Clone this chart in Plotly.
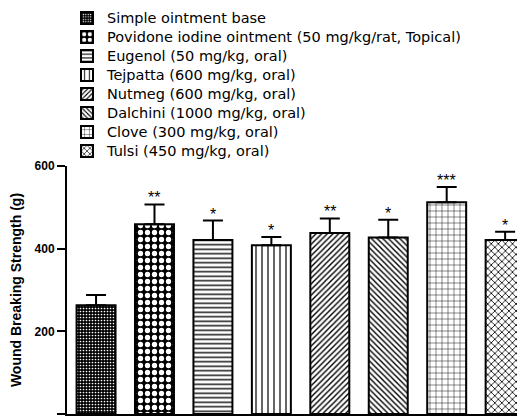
import plotly.graph_objects as go

groups = [
    "Simple ointment base",
    "Povidone iodine ointment (50 mg/kg/rat, Topical)",
    "Eugenol (50 mg/kg, oral)",
    "Tejpatta (600 mg/kg, oral)",
    "Nutmeg (600 mg/kg, oral)",
    "Dalchini (1000 mg/kg, oral)",
    "Clove (300 mg/kg, oral)",
    "Tulsi (450 mg/kg, oral)",
]
means = [263, 459, 421, 408, 438, 427, 512, 421]
sems = [25, 48, 47, 20, 35, 43, 37, 20]
stars = ["", "**", "*", "*", "**", "*", "***", "*"]
y_ticks = [0, 200, 400, 600]

patterns = [
    dict(shape=".", fillmode="replace", bgcolor="black", fgcolor="white", size=3, solidity=0.25),
    dict(shape=".", fillmode="replace", bgcolor="black", fgcolor="white", size=7, solidity=0.45),
    dict(shape="-", fillmode="replace", bgcolor="white", fgcolor="#222", size=4.5, solidity=0.35),
    dict(shape="|", fillmode="replace", bgcolor="white", fgcolor="#333", size=6, solidity=0.25),
    dict(shape="/", fillmode="replace", bgcolor="white", fgcolor="black", size=4, solidity=0.35),
    dict(shape="\\", fillmode="replace", bgcolor="white", fgcolor="black", size=4, solidity=0.35),
    dict(shape="+", fillmode="replace", bgcolor="white", fgcolor="black", size=6, solidity=0.15),
    dict(shape="x", fillmode="replace", bgcolor="white", fgcolor="black", size=5, solidity=0.3),
]

FONT = "Liberation Sans, Arial, sans-serif"
LEGEND_FONT = "DejaVu Sans, Liberation Sans, sans-serif"

fig = go.Figure()
for g, m, s, p in zip(groups, means, sems, patterns):
    fig.add_trace(go.Bar(
        x=[g], y=[m], width=0.667,
        name='<span style="font-size:14.5px">' + g + '</span>',
        marker=dict(color="white", line=dict(color="black", width=2), pattern=p),
        error_y=dict(type="data", array=[s], arrayminus=[0], symmetric=False,
                     color="black", thickness=2, width=10),
    ))

for g, m, s, st in zip(groups, means, sems, stars):
    if st:
        fig.add_annotation(x=g, y=m + s, text=st, showarrow=False, yanchor="bottom",
                           yshift=-4, font=dict(family=FONT, size=16, color="black"))

fig.update_layout(
    width=517, height=408,
    margin=dict(l=59, r=0, t=158, b=2, autoexpand=False),
    paper_bgcolor="white", plot_bgcolor="white",
    barmode="overlay",
    showlegend=True,
    legend=dict(x=0.0, y=1.655, xanchor="left", yanchor="top",
                font=dict(family=LEGEND_FONT, size=12, color="black"),
                bgcolor="rgba(0,0,0,0)", tracegroupgap=0),
    font=dict(family=FONT, color="black"),
)
fig.update_xaxes(type="category", categoryorder="array", categoryarray=groups,
                 range=[-0.497, 7.34], showline=True, linecolor="black", linewidth=2,
                 showticklabels=False, ticks="", showgrid=False, zeroline=False,
                 automargin=False)
fig.update_yaxes(range=[0, 600], tickvals=y_ticks, showline=True, linecolor="black",
                 linewidth=2, ticks="outside", ticklen=8, tickwidth=2, tickcolor="black",
                 tickfont=dict(family=FONT, size=12, weight="bold"),
                 showgrid=False, zeroline=False, automargin=False,
                 title=dict(text="Wound Breaking Strength (g)",
                            font=dict(family=FONT, size=14, weight="bold"), standoff=13))

fig.write_html("out.html")
